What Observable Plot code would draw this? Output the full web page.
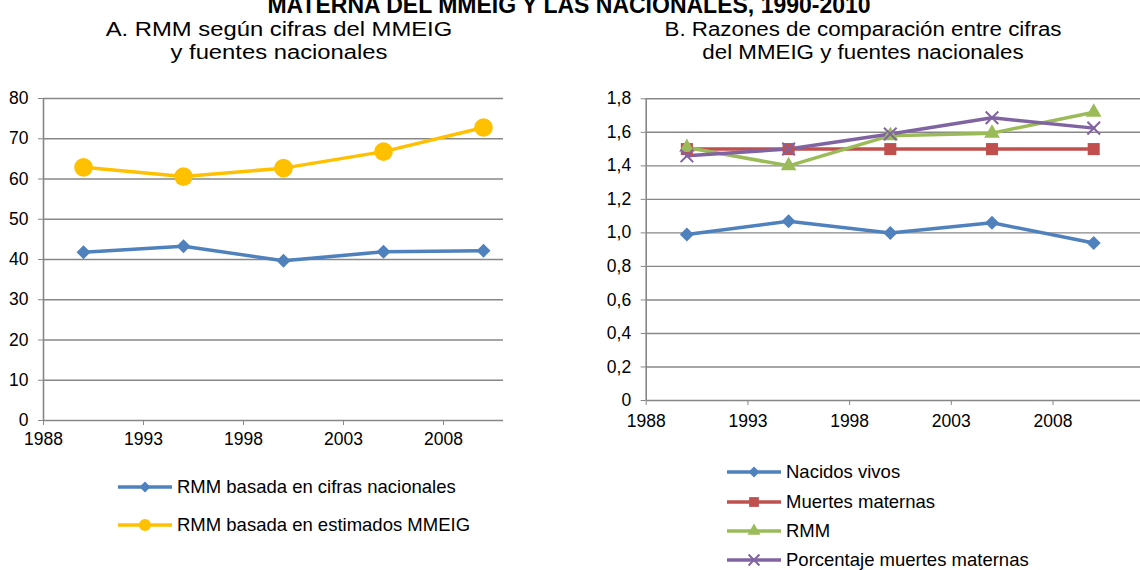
<!DOCTYPE html>
<html>
<head>
<meta charset="utf-8">
<script src="https://cdn.jsdelivr.net/npm/d3@7"></script>
<script src="https://cdn.jsdelivr.net/npm/@observablehq/plot@0.6"></script>
<style>
  body { margin: 0; background: #fff; }
  #root { position: relative; width: 1140px; height: 570px; overflow: hidden; font-family: "Liberation Sans", Arial, sans-serif; color: #000; }
  .abs { position: absolute; }
  .main-title { font-weight: bold; font-size: 23px; line-height: 23px; white-space: nowrap; text-align: center; }
  .panel-title { font-size: 20px; line-height: 22.5px; text-align: center; white-space: nowrap; transform-origin: 50% 50%; }
  .legend-row { position: absolute; display: flex; align-items: center; font-size: 18.5px; white-space: nowrap; }
  .legend-row svg { display: block; margin-right: 5px; }
</style>
</head>
<body>
<div id="root"></div>
<script>
// ---------- data ----------
const years = [1990, 1995, 2000, 2005, 2010];
const xTicks = [1988, 1993, 1998, 2003, 2008];

// Panel A: RMM
const rmmNacional = [41.8, 43.3, 39.7, 41.9, 42.2];
const rmmMMEIG = [62.9, 60.6, 62.7, 66.8, 72.8];
const yTicksA = [0, 10, 20, 30, 40, 50, 60, 70, 80];

// Panel B: razones de comparación
const nacidosVivos = [0.99, 1.07, 1.00, 1.06, 0.94];
const muertesMaternas = [1.50, 1.50, 1.50, 1.50, 1.50];
const razonRMM = [1.51, 1.40, 1.58, 1.595, 1.72];
const porcentajeMuertes = [1.46, 1.50, 1.59, 1.687, 1.625];
const yTicksB = [0, 0.2, 0.4, 0.6, 0.8, 1.0, 1.2, 1.4, 1.6, 1.8];

const namesA = ["RMM basada en cifras nacionales", "RMM basada en estimados MMEIG"];
const namesB = ["Nacidos vivos", "Muertes maternas", "RMM", "Porcentaje muertes maternas"];

// ---------- styles ----------
const seriesA = [
  {name: namesA[0], values: rmmNacional, color: "#4F81BD", symbol: "diamond2", r: 6.3, lr: 5},
  {name: namesA[1], values: rmmMMEIG, color: "#FFC000", symbol: "circle", r: 9.3, lr: 6}
];
const seriesB = [
  {name: namesB[0], values: nacidosVivos, color: "#4F81BD", symbol: "diamond2", r: 6.3, lr: 5},
  {name: namesB[1], values: muertesMaternas, color: "#C0504D", symbol: "square", r: 6.8, lr: 5.5},
  {name: namesB[2], values: razonRMM, color: "#9BBB59", symbol: "triangle", r: 5.8, lr: 4.8},
  {name: namesB[3], values: porcentajeMuertes, color: "#8064A2", symbol: "times", r: 5.8, lr: 5, stroked: true}
];

const grid = "#878787";
const font = "'Liberation Sans', Arial, sans-serif";

function tidy(series) {
  return series.flatMap(s => years.map((yr, i) => ({series: s.name, year: yr, value: s.values[i]})));
}

function panel(series, opts) {
  const data = tidy(series);
  const marks = [
    Plot.ruleY(opts.yTicks, {stroke: grid, strokeWidth: 1.4}),
    Plot.ruleX(opts.xDomain.slice(0, 1), {stroke: grid, strokeWidth: 1.6}),
    Plot.axisY({ticks: opts.yTicks, tickSize: 5, tickPadding: 10, stroke: grid, fill: "#000", tickFormat: opts.yFormat, label: null}),
    Plot.axisX({ticks: xTicks, tickSize: 5, tickPadding: opts.xPad, stroke: grid, fill: "#000", tickFormat: d => String(d), label: null})
  ];
  for (const s of series) {
    const d = data.filter(r => r.series === s.name);
    marks.push(Plot.line(d, {x: "year", y: "value", stroke: s.color, strokeWidth: 3.5, strokeLinejoin: "round"}));
  }
  for (const s of series) {
    const d = data.filter(r => r.series === s.name);
    if (s.stroked) {
      marks.push(Plot.dot(d, {x: "year", y: "value", symbol: s.symbol, r: s.r, stroke: s.color, strokeWidth: 2, fill: "none"}));
    } else {
      marks.push(Plot.dot(d, {x: "year", y: "value", symbol: s.symbol, r: s.r, fill: s.color, stroke: "none"}));
    }
  }
  return Plot.plot({
    width: opts.width,
    height: opts.height,
    marginLeft: opts.marginLeft,
    marginRight: opts.marginRight,
    marginTop: opts.marginTop,
    marginBottom: opts.marginBottom,
    style: {fontSize: "17.5px", fontFamily: font, background: "transparent", overflow: "visible"},
    x: {domain: opts.xDomain, axis: null},
    y: {domain: [opts.yTicks[0], opts.yTicks[opts.yTicks.length - 1]], axis: null},
    marks
  });
}

const root = document.getElementById("root");

function place(el, left, top) {
  el.classList.add("abs");
  el.style.left = left + "px";
  el.style.top = top + "px";
  root.appendChild(el);
  return el;
}

// Panel A
const chartA = panel(seriesA, {
  width: 560, height: 460, marginLeft: 43, marginRight: 57, marginTop: 98, marginBottom: 40,
  xDomain: [1988, 2011], yTicks: yTicksA, yFormat: d => String(d), xPad: 7
});
place(chartA, 0, 0);

// Panel B
const commaFmt = d => d === 0 ? "0" : d.toFixed(1).replace(".", ",");
const chartB = panel(seriesB, {
  width: 570, height: 440, marginLeft: 75.7, marginRight: 0, marginTop: 98.3, marginBottom: 40,
  xDomain: [1988, 2012.3], yTicks: yTicksB, yFormat: commaFmt, xPad: 9
});
place(chartB, 570, 0);

// Titles
function textDiv(cls, html, left, top, width, sx) {
  const d = document.createElement("div");
  d.className = cls;
  d.innerHTML = html;
  d.style.width = width + "px";
  if (sx) d.style.transform = `scaleX(${sx})`;
  return place(d, left, top);
}
textDiv("main-title", "MATERNA DEL MMEIG Y LAS NACIONALES, 1990-2010", 69, -6.5, 1000);
textDiv("panel-title", "A. RMM según cifras del MMEIG<br>y fuentes nacionales", 79, 18, 400, 1.19);
textDiv("panel-title", "B. Razones de comparación entre cifras<br>del MMEIG y fuentes nacionales", 663, 18, 400, 1.116);

// Legends
function legendRow(s, left, cy) {
  const row = document.createElement("div");
  row.className = "legend-row";
  const w = 54, h = 20;
  const svg = d3.create("svg").attr("width", w).attr("height", h);
  svg.append("line").attr("x1", 0).attr("x2", w).attr("y1", h / 2).attr("y2", h / 2)
    .attr("stroke", s.color).attr("stroke-width", 3.5).attr("stroke-linecap", "round");
  const sym = {diamond2: d3.symbolDiamond2, circle: d3.symbolCircle, square: d3.symbolSquare, triangle: d3.symbolTriangle, times: d3.symbolTimes}[s.symbol];
  const p = svg.append("path").attr("d", d3.symbol(sym, Math.PI * s.lr * s.lr)()).attr("transform", `translate(${w / 2},${h / 2})`);
  if (s.stroked) p.attr("fill", "none").attr("stroke", s.color).attr("stroke-width", 2);
  else p.attr("fill", s.color);
  row.appendChild(svg.node());
  const t = document.createElement("span");
  t.textContent = s.name;
  row.appendChild(t);
  row.style.left = left + "px";
  row.style.top = (cy - h / 2) + "px";
  root.appendChild(row);
}
legendRow(seriesA[0], 118, 486);
legendRow(seriesA[1], 118, 524);
const legBY = [471, 501, 530, 559];
seriesB.forEach((s, i) => legendRow(s, 727, legBY[i]));
</script>
</body>
</html>
